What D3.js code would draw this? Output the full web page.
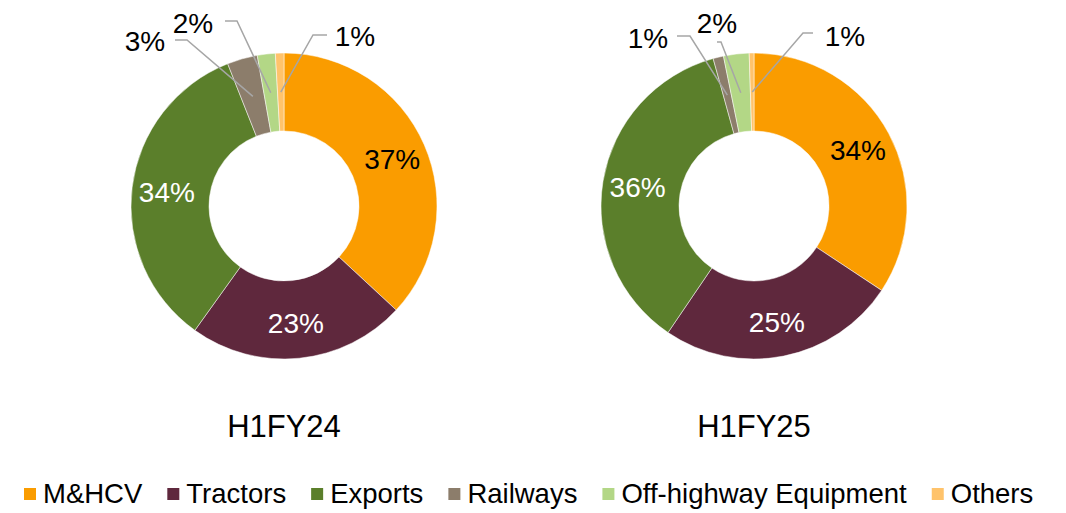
<!DOCTYPE html>
<html lang="en">
<head>
	<meta charset="UTF-8">
	<title>donuts</title>
	<style>
		body { margin: 0; background: #fff; }
		text { font-family: "Liberation Sans", Arial, sans-serif; }
	</style>
</head>
<body>
	<svg id="container" width="1066" height="513"></svg>
<script src="https://cdn.jsdelivr.net/npm/d3@7"></script>
<script>
	// data
	let categories = ["M&HCV", "Tractors", "Exports", "Railways", "Off-highway Equipment", "Others"]
	let colors = ["#FA9C00", "#5F283D", "#5B7F2B", "#8C7D6B", "#B3D786", "#FFC36B"]
	let periods = ["H1FY24", "H1FY25"]
	let fy24 = [36.9, 23.0, 34.1, 3.2, 1.9, 0.9]
	let fy25 = [34.3, 25.2, 36.2, 1.1, 2.7, 0.5]
	let labels24 = ["37%", "23%", "34%", "3%", "2%", "1%"]
	let labels25 = ["34%", "25%", "36%", "1%", "2%", "1%"]

	let svg = d3.select("#container")
	let outerR = 153, innerR = 75
	let centers = [284, 754]
	let cy = 206

	let color = d3.scaleOrdinal().domain(categories).range(colors)
	let pie = d3.pie().sort(null).value(d => d.v)
	let arc = d3.arc().innerRadius(innerR).outerRadius(outerR)
	let labelArc = d3.arc().innerRadius(118).outerRadius(118)
	let pointArc = d3.arc().innerRadius(114).outerRadius(114)

	// outside label layout, relative to the donut centre:
	// text centre, start of leader line, elbow point
	let outside = [
		{
			3: {t: [-139, -165], s: [-109, -166], e: [-97, -166]},
			4: {t: [-91, -183], s: [-59, -185], e: [-47, -185]},
			5: {t: [71, -170], s: [43, -171], e: [29, -171]}
		},
		{
			3: {t: [-106, -168], s: [-77, -170], e: [-64, -170]},
			4: {t: [-37, -183], s: [-37, -164], e: [-33, -164]},
			5: {t: [91, -170], s: [59, -173], e: [49, -173]}
		}
	]

	function drawDonut(values, labels, idx) {
		let data = categories.map((c, i) => ({c: c, v: values[i], l: labels[i], i: i}))
		let g = svg.append("g").attr("transform", "translate(" + centers[idx] + "," + cy + ")")
		let arcs = pie(data)

		g.selectAll("path.slice")
			.data(arcs)
			.enter().append("path")
			.attr("class", "slice")
			.attr("d", arc)
			.attr("fill", d => color(d.data.c))
			.attr("stroke", "#fff")
			.attr("stroke-width", 0.5)

		// inner labels
		g.selectAll("text.in")
			.data(arcs.filter(d => d.data.i < 3))
			.enter().append("text")
			.attr("class", "in")
			.attr("transform", d => "translate(" + labelArc.centroid(d) + ")")
			.attr("text-anchor", "middle")
			.attr("dy", "0.36em")
			.attr("font-size", 28)
			.attr("fill", d => d.data.i == 0 ? "#000" : "#fff")
			.text(d => d.data.l)

		// outer labels with leader lines
		arcs.filter(d => d.data.i >= 3).forEach(d => {
			let o = outside[idx][d.data.i]
			g.append("polyline")
				.attr("points", [o.s, o.e, pointArc.centroid(d)].map(q => q.join(",")).join(" "))
				.attr("fill", "none")
				.attr("stroke", "#A6A6A6")
				.attr("stroke-width", 1.5)
			g.append("text")
				.attr("x", o.t[0])
				.attr("y", o.t[1])
				.attr("text-anchor", "middle")
				.attr("dy", "0.36em")
				.attr("font-size", 28)
				.attr("fill", "#000")
				.text(d.data.l)
		})

		svg.append("text")
			.attr("x", centers[idx])
			.attr("y", 437)
			.attr("text-anchor", "middle")
			.attr("font-size", 31)
			.attr("fill", "#000")
			.text(periods[idx])
	}

	drawDonut(fy24, labels24, 0)
	drawDonut(fy25, labels25, 1)

	// legend
	let legend = svg.append("g")
	let x = 24
	categories.forEach((c, i) => {
		let item = legend.append("g").attr("transform", "translate(" + x + ",0)")
		item.append("rect")
			.attr("x", 0).attr("y", 488)
			.attr("width", 12).attr("height", 12)
			.attr("fill", colors[i])
		let t = item.append("text")
			.attr("x", 19).attr("y", 503)
			.attr("font-size", 27.5)
			.attr("fill", "#000")
			.text(c)
		x += 19 + t.node().getComputedTextLength() + 25
	})
</script>
</body>
</html>
